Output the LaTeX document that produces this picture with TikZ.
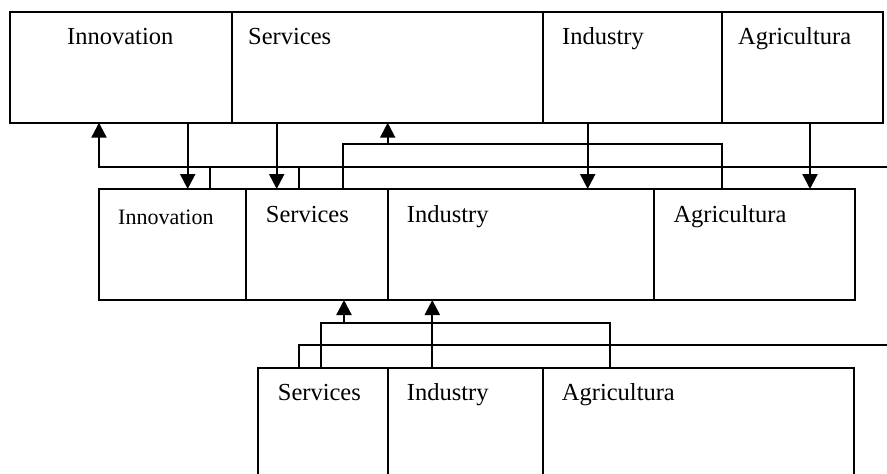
\documentclass[tikz,border=0pt]{standalone}
\usepackage{fontspec}
\setmainfont{Liberation Serif}
\usetikzlibrary{arrows.meta}

\begin{document}
\begin{tikzpicture}[x=1pt,y=-1pt,
  cell/.style={draw,line width=1.7pt,inner sep=0pt,outer sep=0pt,anchor=north west,minimum height=111pt},
  txt/.style={anchor=base west,inner sep=0pt,font=\fontsize{24.5}{28}\selectfont},
  link/.style={line width=2.2pt},
  arr/.style={link,-{Triangle[length=15pt 0 0,width=15pt 0 0]}}]
\useasboundingbox (0,0) rectangle (887,474);
\clip (0,0) rectangle (887,474);
% 上段
\node[cell,minimum width=222pt] (tInn) at (10,11.7) {};
\node[cell,minimum width=311pt] (tSer) at (tInn.north east) {};
\node[cell,minimum width=178.7pt] (tInd) at (tSer.north east) {};
\node[cell,minimum width=161.3pt] (tAgr) at (tInd.north east) {};
\node[txt] (tInnT) at (67,44) {Innovation};
\node[txt] (tSerT) at (248,44) {Services};
\node[txt] (tIndT) at (562,44) {Industry};
\node[txt] (tAgrT) at (738,44) {Agricultura};
% 中段
\node[cell,minimum width=147pt] (mInn) at (99,189) {};
\node[cell,minimum width=141.7pt] (mSer) at (mInn.north east) {};
\node[cell,minimum width=266.6pt] (mInd) at (mSer.north east) {};
\node[cell,minimum width=200.7pt] (mAgr) at (mInd.north east) {};
\node[txt,font=\fontsize{22}{26}\selectfont] (mInnT) at (118,224) {Innovation};
\node[txt] (mSerT) at (265.7,222) {Services};
\node[txt] (mIndT) at (406.7,222) {Industry};
\node[txt] (mAgrT) at (673.3,222) {Agricultura};
% 下段
\node[cell,minimum width=130pt,minimum height=120pt] (bSer) at (257.7,367.7) {};
\node[cell,minimum width=155.6pt,minimum height=120pt] (bInd) at (bSer.north east) {};
\node[cell,minimum width=311pt,minimum height=120pt] (bAgr) at (bInd.north east) {};
\node[txt] (bSerT) at (277.7,400) {Services};
\node[txt] (bIndT) at (406.7,400) {Industry};
\node[txt] (bAgrT) at (561.7,400) {Agricultura};
% 上段と中段の間
\coordinate (a1) at (99,167);
\coordinate (a2) at (887,167);
\draw[arr] (a2) -- (a1) -- (a1 |- tInn.south);
\draw[link] (a1 -| 210,0) -- (mInn.north -| 210,0);
\draw[link] (a1 -| 299,0) -- (mSer.north -| 299,0);
\coordinate (b1) at (343,144);
\coordinate (b2) at (721.7,144);
\draw[link] (b1 |- mSer.north) -- (b1) -- (b2) -- (b2 |- mAgr.north);
\draw[arr] (b1 -| 387.7,0) -- (tSer.south -| 387.7,0);
\draw[arr] (tInn.south -| 187.7,0) -- (mInn.north -| 187.7,0);
\draw[arr] (tSer.south -| 276.7,0) -- (mSer.north -| 276.7,0);
\draw[arr] (tInd.south -| 587.7,0) -- (mInd.north -| 587.7,0);
\draw[arr] (tAgr.south -| 810,0) -- (mAgr.north -| 810,0);
% 中段と下段の間
\coordinate (c1) at (321,322.7);
\coordinate (c2) at (610,322.7);
\draw[link] (c1 |- bSer.north) -- (c1) -- (c2) -- (c2 |- bAgr.north);
\draw[arr] (c1 -| 344,0) -- (mSer.south -| 344,0);
\draw[arr] (bInd.north -| 432.3,0) -- (mInd.south -| 432.3,0);
\coordinate (d1) at (299,345);
\coordinate (d2) at (887,345);
\draw[link] (d1 |- bSer.north) -- (d1) -- (d2);
\end{tikzpicture}
\end{document}
